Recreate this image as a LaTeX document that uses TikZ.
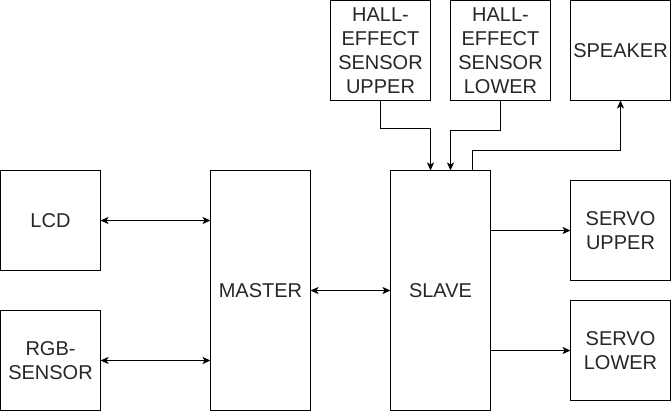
\documentclass[tikz,border=0pt]{standalone}
\usepackage{fontspec}
\setmainfont{Liberation Sans}
\usetikzlibrary{arrows.meta}
\begin{document}
\begin{tikzpicture}[x=1pt,y=-1pt,
  blk/.style={draw=black,line width=1pt,rectangle,inner sep=0pt,outer sep=0pt,
    minimum width=100pt,minimum height=100pt,align=center,
    font=\fontsize{20}{24}\selectfont,text=black!85},
  tall/.style={blk,minimum height=240pt},
  conn/.style={line width=1pt,-{Stealth[length=8pt,width=7pt,inset=2pt]}},
  bconn/.style={line width=1pt,{Stealth[length=8pt,width=7pt,inset=2pt]}-{Stealth[length=8pt,width=7pt,inset=2pt]}}]
\useasboundingbox (0,0) rectangle (671,411);
\begin{scope}[shift={(0.5,0.5)}]
\node[blk] (lcd) at (50,220) {LCD};
\node[blk] (rgb) at (50,360) {RGB-\\SENSOR};
\node[tall] (master) at (260,290) {MASTER};
\node[tall] (slave) at (440,290) {SLAVE};
\node[blk] (hu) at (380,50) {HALL-\\EFFECT\\SENSOR\\UPPER};
\node[blk] (hl) at (500,50) {HALL-\\EFFECT\\SENSOR\\LOWER};
\node[blk] (spk) at (620,50) {SPEAKER};
\node[blk] (su) at (620,230) {SERVO\\UPPER};
\node[blk] (sl) at (620,350) {SERVO\\LOWER};

\draw[bconn] (lcd.east) -- (lcd.east -| master.west);
\draw[bconn] (rgb.east) -- (rgb.east -| master.west);
\draw[bconn] (master.east) -- (slave.west);
\draw[conn] (hu.south) -- ++(0,28) -| ([xshift=-10pt]slave.north);
\draw[conn] (hl.south) -- ++(0,30) -| ([xshift=10pt]slave.north);
\draw[conn] ([xshift=32pt]slave.north) -- ++(0,-20) -| (spk.south);
\draw[conn] ([yshift=60pt]slave.east) -- (su.west);
\draw[conn] ([yshift=-60pt]slave.east) -- (sl.west);
\end{scope}
\end{tikzpicture}
\end{document}
